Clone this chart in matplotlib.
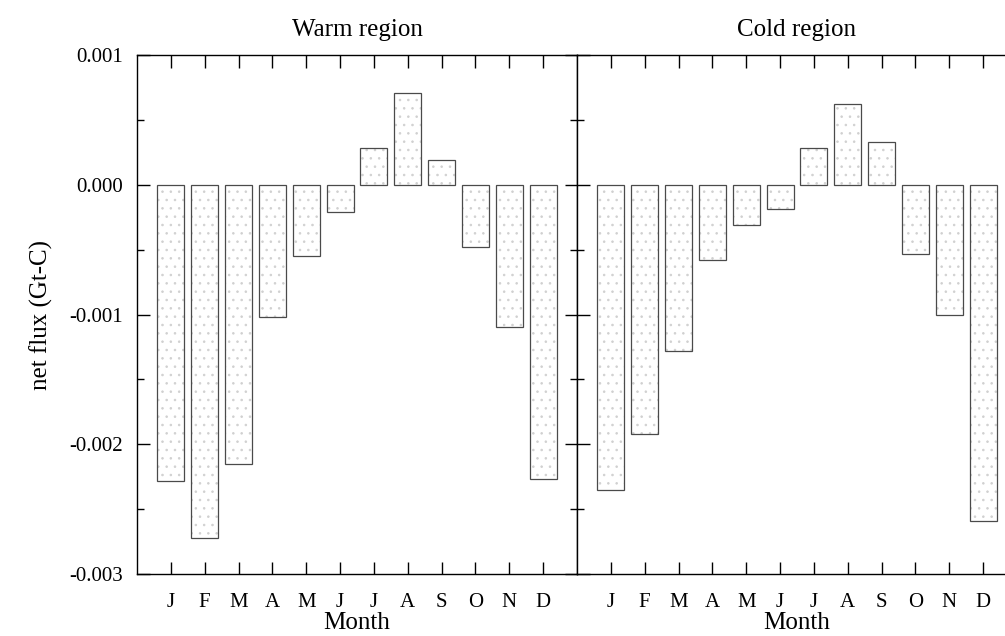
import matplotlib.pyplot as plt
import numpy as np

plt.rcParams['font.family'] = ['Liberation Serif', 'DejaVu Serif']
plt.rcParams['hatch.linewidth'] = 0.6

# month positions and labels
months = ['J', 'F', 'M', 'A', 'M', 'J', 'J', 'A', 'S', 'O', 'N', 'D']
month_pos = np.arange(1, 13)

# net flux (Gt-C)
warm_flux = [-0.00228, -0.00272, -0.00215, -0.00102, -0.00055, -0.00021,
             0.00028, 0.00071, 0.00019, -0.00048, -0.00110, -0.00227]
cold_flux = [-0.00235, -0.00192, -0.00128, -0.00058, -0.00031, -0.00019,
             0.00028, 0.00062, 0.00033, -0.00053, -0.00100, -0.00259]

titles = ['Warm region', 'Cold region']
yticks = [0.001, 0.0, -0.001, -0.002, -0.003]
ytick_labels = ['0.001', '0.000', '-0.001', '-0.002', '-0.003']

fig = plt.figure(figsize=(10.05, 6.36), dpi=100)
ax_left = fig.add_axes([0.1363, 0.0975, 0.4378, 0.816])
ax_right = fig.add_axes([0.5741, 0.0975, 0.4378, 0.816])


def draw_panel(ax, values, title, show_ylabels):
    # stippled fill, then the outline on top
    ax.bar(month_pos, values, width=0.8, color='white', hatch='..',
           edgecolor='#d0d0d0', linewidth=0, zorder=2)
    ax.bar(month_pos, values, width=0.8, fill=False,
           edgecolor='#4a4a4a', linewidth=0.9, zorder=3)
    ax.set_xlim(0, 13)
    ax.set_ylim(-0.003, 0.001)
    ax.set_xticks(month_pos)
    ax.set_xticklabels(months, fontsize=15)
    ax.set_yticks(yticks)
    ax.set_yticks([0.0005, -0.0005, -0.0015, -0.0025], minor=True)
    if show_ylabels:
        ax.set_yticklabels(ytick_labels, fontsize=15)
    else:
        ax.set_yticklabels([])
    ax.tick_params(axis='both', which='major', direction='in', length=9,
                   width=1, top=True, right=True, pad=14)
    ax.tick_params(axis='y', which='minor', direction='in', length=5,
                   width=1, left=True, right=True)
    ax.tick_params(axis='y', which='major', pad=10)
    for s in ax.spines.values():
        s.set_linewidth(1)
        s.set_color('black')
    ax.set_title(title, fontsize=18, pad=14)
    ax.set_xlabel('Month', fontsize=18, labelpad=0)


draw_panel(ax_left, warm_flux, titles[0], True)
draw_panel(ax_right, cold_flux, titles[1], False)
ax_left.set_ylabel('net flux (Gt-C)', fontsize=18, labelpad=12)

fig.savefig('out.png', dpi=100)
